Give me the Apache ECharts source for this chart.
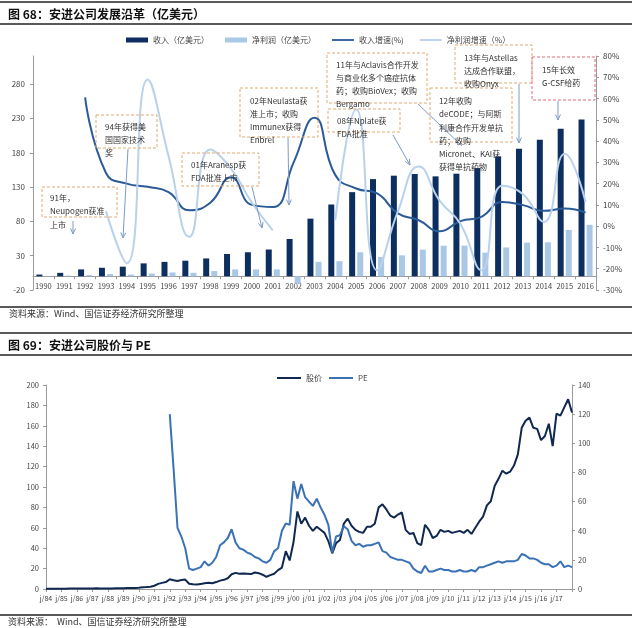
<!DOCTYPE html>
<html><head><meta charset="utf-8">
<script src="https://cdn.jsdelivr.net/npm/echarts@6/dist/echarts.min.js"></script>
<style>html,body{margin:0;padding:0;background:#fff}#c{width:639px;height:628px}</style>
</head><body><div id="c"></div>
<script>
// ---------- Chart 68 data ----------
const years = ['1990','1991','1992','1993','1994','1995','1996','1997','1998','1999','2000','2001','2002','2003','2004','2005','2006','2007','2008','2009','2010','2011','2012','2013','2014','2015','2016'];
const revenue = [2.5, 5, 10, 12.4, 14, 18.8, 21, 22.7, 26, 32.5, 35, 39, 54.4, 84, 104.6, 122.6, 141.6, 146.6, 149, 145.6, 149.5, 157.7, 174.8, 186, 199, 215, 228.5];
const profit = [0.5, 1, 1.8, 3.2, 2.5, 4, 5.6, 5.1, 7.6, 10, 10, 10, -10.5, 21, 22, 35, 28, 30.5, 38.8, 44.6, 44.6, 34.4, 42, 49, 49.5, 67.6, 75];
const revGrowth = [null, null, 60.5, 25, 20, 18.5, 16, 7.5, 11, 23, 10, 9, 30, 51, 24, 17.7, 15.4, 6, 2.8, -2.4, 2.4, 4.4, 11.4, 9.9, 7.2, 8.3, 6.4];
const profitGrowth = [null, null, null, 7, -17.5, 69, 33, -5, 36, 27, 11, -2, null, null, 3, 55, -20.7, 7, 28, 12, 1, -20.7, 19, 15, 2, 34, 11.4];
const leftTicks = [-20, 30, 80, 130, 180, 230, 280];

// ---------- Chart 69 data (quarterly, 1984Q1 .. 2018Q1) ----------
const stockYears = ['84','85','86','87','88','89','90','91','92','93','94','95','96','97','98','99','00','01','02','03','04','05','06','07','08','09','10','11','12','13','14','15','16','17','18'];
const price = [
  0.3,0.3,0.3,0.3,   0.3,0.3,0.4,0.4,   0.5,0.6,0.5,0.5,   0.6,0.7,0.6,0.6,
  0.6,0.6,0.7,0.7,   0.8,0.9,1.0,1.1,   1.3,1.6,1.9,2.3,   3.2,5.0,6.0,6.8,
  9.5,8.5,7.8,8.8,   9.2,5.2,4.6,4.4,   5.0,5.6,6.2,5.6,   6.8,8.2,9.0,10.5,
  14.5,15.8,15.0,15.3, 15.0,14.6,16.2,15.5, 14.0,12.0,13.6,15.0, 18.5,21,37,28,
  46,76,64,70,       62,57,61,58,       55,47,35,45,       48,64,69,62,
  58,56,55,61,       61,64,80,83,       78,72,70,73,       75,58,54,55,
  45,43,63,58,       50,52,58,56,       57,55,56,57,       55,58,54,60,
  66,71,82,86,       101,108,116,113,   115,121,132,158,   165,168,158,157,
  146,150,162,140,   172,170,178,186,   173
];
const pe = [
  null,null,null,null, null,null,null,null, null,null,null,null, null,null,null,null,
  null,null,null,null, null,null,null,null, null,null,null,null, null,null,null,null,
  120,82,42,36,      28,14,13,14,       15,19,16,18,       22,30,32,35,
  41,32,28,27,       25,24,22,21,       19,18,20,26,       28,40,45,44,
  74,62,72,63,       60,57,62,56,       51,44,25,36,       37,43,41,33,
  30,31,29,30,       30,31,32,26,       25,22,21,20,       20,19,18,14,
  12,11,16,12,       12,13,14,13,       13,12,12,13,       12,12,13,12,
  15,15,16,17,       18,19,18,19,       19,19,20,24,       23,21,21,20,
  18,17,17,15,       16,19,15,16,       15
];
const stockCats = [];
stockYears.forEach((yy, i) => {
  for (let q = 0; q < 4; q++) {
    if (i === stockYears.length - 1 && q > 0) break;
    stockCats.push(q === 0 ? 'j/' + yy : yy + '.' + q);
  }
});

const FONT = "'Noto Sans CJK SC', Lato, sans-serif";
const BOX = '#e2aa72', PINK = '#e26a80', ARR = '#7e9bc3';
const LINE_ICON = 'path://M0,0H12V1H0Z';

function box(x, y, w, h, color) {
  return {type:'rect', shape:{x, y, width:w, height:h}, z:50,
    style:{fill:'none', stroke:color, lineWidth:1, lineDash:[3,2]}};
}
function txt(x, y, text, size, lh, extra) {
  return {type:'text', x, y, z:51,
    style:Object.assign({text, fill:'#333', fontSize:size, fontFamily:FONT, lineHeight:lh, verticalAlign:'top'}, extra || {})};
}
function arrow(x1, y1, x2, y2, head) {
  const els = [{type:'line', z:49, shape:{x1, y1, x2, y2}, style:{stroke:ARR, lineWidth:1}}];
  if (head !== false) {
    const a = Math.atan2(y2 - y1, x2 - x1), L = 6, w = 0.42;
    els.push({type:'polyline', z:49, shape:{points:[[x2 - L*Math.cos(a - w), y2 - L*Math.sin(a - w)], [x2, y2], [x2 - L*Math.cos(a + w), y2 - L*Math.sin(a + w)]]},
      style:{stroke:ARR, fill:'none', lineWidth:1}});
  }
  return els;
}
function hline(y, w) {
  return {type:'line', shape:{x1:0, y1:y, x2:632, y2:y}, style:{stroke:'#222', lineWidth:w || 1.5}};
}

const graphics = [
  hline(2), hline(24), hline(307), hline(333), hline(355), hline(615),
  txt(8, 7, '图 68：安进公司发展沿革（亿美元）', 12, 14, {fontWeight:'bold', fill:'#111'}),
  txt(9, 308, '资料来源：Wind、国信证券经济研究所整理', 9, 12, {fill:'#333'}),
  txt(8, 338, '图 69：安进公司股价与 PE', 12, 14, {fontWeight:'bold', fill:'#111'}),
  txt(8, 616, '资料来源：  Wind、国信证券经济研究所整理', 9, 12, {fill:'#333'}),
  // annotation boxes
  box(42, 187, 75, 30, BOX), txt(50, 191, '91年，\nNeupogen获准\n上市', 8, 13.5),
  box(96, 115, 61, 33, BOX), txt(105, 120.5, '94年获得美\n国国家技术\n奖', 8, 13),
  box(182, 153, 77, 33, BOX), txt(191, 158, '01年Aranesp获\nFDA批准上市', 8, 13.5),
  box(240, 88, 78, 49, BOX), txt(250, 94.5, '02年Neulasta获\n准上市；收购\nImmunex获得\nEnbrel', 8, 13),
  box(327, 53, 100, 50, BOX), txt(336, 58.5, '11年与Aclavis合作开发\n与商业化多个癌症抗体\n药；收购BioVex；收购\nBergamo', 8, 13),
  box(328, 109, 72, 23, BOX), txt(337, 114.5, '08年Nplate获\nFDA批准', 8, 13),
  box(430, 88, 82, 54, BOX), txt(439, 94.5, '12年收购\ndeCODE；与阿斯\n利康合作开发单抗\n药；收购\nMicronet、KAI获\n获得单抗药物', 8, 13.2),
  box(455, 45, 77, 38, BOX), txt(464, 51.5, '13年与Astellas\n达成合作联盟，\n收购Onyx', 8, 13),
  box(532, 57, 63, 43, PINK), txt(542, 63.5, '15年长效\nG-CSF给药', 8, 13),
  ...arrow(73, 221, 73, 234),
  ...arrow(128, 149, 123, 238),
  ...arrow(252, 187, 262, 228),
  ...arrow(288, 138, 289, 205),
  ...arrow(418, 104, 462, 146, false),
  ...arrow(393, 135, 410, 165),
  ...arrow(519, 84, 519, 143),
  ...arrow(558, 101, 558, 120)
];

const axisGray = {lineStyle:{color:'#9a9a9a', width:1}};
const lbl = (extra) => Object.assign({fontSize:8, color:'#444', fontFamily:FONT}, extra || {});

const option = {
  animation: false,
  backgroundColor: '#fff',
  textStyle: {fontFamily: FONT},
  legend: [
    {left:126, top:36, padding:0, itemGap:16, itemWidth:22, itemHeight:5,
     textStyle:{fontSize:8, color:'#444', fontFamily:FONT},
     data:[{name:'收入（亿美元）', icon:'rect'}, {name:'净利润（亿美元）', icon:'rect'},
           {name:'收入增速(%)', icon:LINE_ICON}, {name:'净利润增速（%）', icon:LINE_ICON}]},
    {left:277, top:374, padding:0, itemGap:7, itemWidth:24, itemHeight:5,
     textStyle:{fontSize:8, color:'#444', fontFamily:FONT},
     data:[{name:'股价', icon:LINE_ICON}, {name:'PE', icon:LINE_ICON}]}
  ],
  grid: [
    {left:33, top:56, width:563, height:234},
    {left:46, top:385, width:526, height:204}
  ],
  xAxis: [
    {type:'category', gridIndex:0, data:years,
     axisLine:Object.assign({onZero:true, onZeroAxisIndex:0}, axisGray),
     axisTick:{show:true, length:3, lineStyle:{color:'#9a9a9a'}},
     axisLabel:lbl({fontSize:7.5, interval:0, margin:-8})},
    {type:'category', gridIndex:1, data:stockCats, boundaryGap:false,
     axisLine:axisGray,
     axisTick:{show:true, length:3, interval:(i) => i % 4 === 0, lineStyle:{color:'#9a9a9a'}},
     axisLabel:lbl({fontSize:7, margin:6, interval:(i) => i % 4 === 0 && i < stockCats.length - 1})}
  ],
  yAxis: [
    {type:'value', gridIndex:0, min:-20, max:321,
     splitLine:{show:false}, axisLine:Object.assign({show:true}, axisGray),
     axisTick:{show:true, length:3, customValues:leftTicks, lineStyle:{color:'#9a9a9a'}},
     axisLabel:lbl({customValues:leftTicks, margin:8})},
    {type:'value', gridIndex:0, position:'right', min:-30, max:80, interval:10,
     splitLine:{show:false}, axisLine:Object.assign({show:true}, axisGray),
     axisTick:{show:true, length:3, lineStyle:{color:'#9a9a9a'}},
     axisLabel:lbl({formatter:'{value}%', margin:7})},
    {type:'value', gridIndex:1, min:0, max:200, interval:20,
     splitLine:{show:false}, axisLine:Object.assign({show:true}, axisGray),
     axisTick:{show:true, length:3, lineStyle:{color:'#9a9a9a'}},
     axisLabel:lbl({fontSize:7.5, margin:7})},
    {type:'value', gridIndex:1, position:'right', min:0, max:140, interval:20,
     splitLine:{show:false}, axisLine:Object.assign({show:true}, axisGray),
     axisTick:{show:true, length:3, lineStyle:{color:'#9a9a9a'}},
     axisLabel:lbl({fontSize:7.5, margin:6})}
  ],
  series: [
    {name:'收入（亿美元）', type:'bar', xAxisIndex:0, yAxisIndex:0, data:revenue,
     barWidth:6, barGap:'35%', itemStyle:{color:'#0c2f5f'}},
    {name:'净利润（亿美元）', type:'bar', xAxisIndex:0, yAxisIndex:0, data:profit,
     barWidth:6, itemStyle:{color:'#a9c8e6'}},
    {name:'收入增速(%)', type:'line', xAxisIndex:0, yAxisIndex:1, data:revGrowth,
     smooth:true, symbol:'none', lineStyle:{color:'#2b5b97', width:2}, itemStyle:{color:'#2b5b97'}},
    {name:'净利润增速（%）', type:'line', xAxisIndex:0, yAxisIndex:1, data:profitGrowth,
     smooth:true, symbol:'none', lineStyle:{color:'#b9d1ea', width:2}, itemStyle:{color:'#b9d1ea'}},
    {name:'股价', type:'line', xAxisIndex:1, yAxisIndex:2, data:price,
     symbol:'none', lineStyle:{color:'#10284f', width:2}, itemStyle:{color:'#10284f'}},
    {name:'PE', type:'line', xAxisIndex:1, yAxisIndex:3, data:pe,
     symbol:'none', lineStyle:{color:'#3a72b5', width:2}, itemStyle:{color:'#3a72b5'}}
  ],
  graphic: graphics
};

const chart = echarts.init(document.getElementById('c'), null, {renderer:'canvas'});
chart.setOption(option);
</script>
</body></html>
